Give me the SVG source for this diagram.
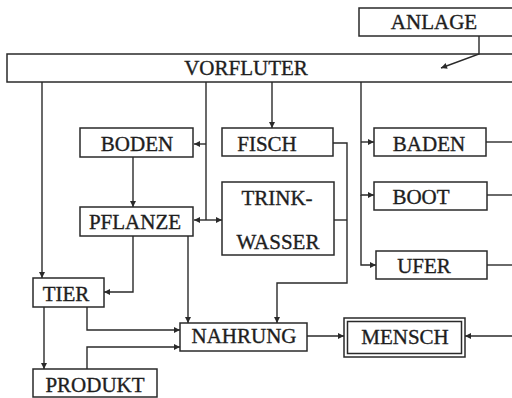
<svg xmlns="http://www.w3.org/2000/svg" width="512" height="398" viewBox="0 0 512 398">
<defs>
<style>
.box{fill:#fff;stroke:#2a2a2a;stroke-width:1.5}
.t{font-family:"Liberation Serif","Times New Roman",serif;font-size:21px;fill:#1e1e1e;text-anchor:middle;stroke:#1e1e1e;stroke-width:0.35}
.c{fill:none;stroke:#2a2a2a;stroke-width:1.4}
</style>
<marker id="a" viewBox="0 0 10 10" refX="10" refY="5" markerWidth="8" markerHeight="6" markerUnits="userSpaceOnUse" orient="auto">
<path d="M0,0 L10,5 L0,10 z" fill="#2a2a2a"/>
</marker>
</defs>
<rect width="512" height="398" fill="#fff"/>
<g id="anlage"><rect class="box" x="359" y="8" width="160" height="28"/><text class="t" x="434" y="29">ANLAGE</text></g>
<g id="vorfluter"><rect class="box" x="7" y="54" width="512" height="28"/><text class="t" x="246" y="75">VORFLUTER</text></g>
<g id="boden"><rect class="box" x="80" y="128" width="113" height="29"/><text class="t" x="137" y="151">BODEN</text></g>
<g id="fisch"><rect class="box" x="222" y="128" width="111" height="28"/><text class="t" x="267" y="151">FISCH</text></g>
<g id="trinkwasser"><rect class="box" x="222" y="182" width="112" height="73"/><text class="t" x="277" y="205">TRINK-</text><text class="t" x="278" y="249">WASSER</text></g>
<g id="pflanze"><rect class="box" x="80" y="207" width="113" height="29"/><text class="t" x="135" y="229">PFLANZE</text></g>
<g id="baden"><rect class="box" x="374" y="128" width="112" height="28"/><text class="t" x="429" y="151">BADEN</text></g>
<g id="boot"><rect class="box" x="374" y="182" width="113" height="28"/><text class="t" x="421" y="204">BOOT</text></g>
<g id="ufer"><rect class="box" x="376" y="251" width="111" height="28"/><text class="t" x="424" y="273">UFER</text></g>
<g id="tier"><rect class="box" x="33" y="278" width="71" height="29"/><text class="t" x="66" y="301">TIER</text></g>
<g id="produkt"><rect class="box" x="33" y="369" width="124" height="28"/><text class="t" x="95" y="392">PRODUKT</text></g>
<g id="nahrung"><rect class="box" x="180" y="323" width="127" height="28"/><text class="t" x="244" y="343">NAHRUNG</text></g>
<g id="mensch"><rect class="box" x="344" y="318" width="121" height="39"/><rect class="box" x="347.5" y="321.5" width="114" height="32"/><text class="t" x="405" y="344">MENSCH</text></g>
<g id="connectors">
<path class="c" d="M479,36 V54 L441,68" marker-end="url(#a)"/>
<path class="c" d="M42,82 V278" marker-end="url(#a)"/>
<path class="c" d="M272,82 V128" marker-end="url(#a)"/>
<path class="c" d="M206,82 V220"/>
<path class="c" d="M206,144 H194" marker-end="url(#a)"/>
<path class="c" d="M206,220 H194" marker-end="url(#a)"/>
<path class="c" d="M206,220 H222" marker-end="url(#a)"/>
<path class="c" d="M361,82 V142"/>
<path class="c" d="M361,142 H374" marker-end="url(#a)"/>
<path class="c" d="M361,142 V195 H374" marker-end="url(#a)"/>
<path class="c" d="M361,195 V265 H376" marker-end="url(#a)"/>
<path class="c" d="M486,142 H512"/>
<path class="c" d="M487,195 H512"/>
<path class="c" d="M487,265 H512"/>
<path class="c" d="M512,336 H465" marker-end="url(#a)"/>
<path class="c" d="M133,157 V207" marker-end="url(#a)"/>
<path class="c" d="M333,143 H347 V283 H277 V323" marker-end="url(#a)"/>
<path class="c" d="M334,220 H347"/>
<path class="c" d="M133,236 V292 H104" marker-end="url(#a)"/>
<path class="c" d="M188,236 V323" marker-end="url(#a)"/>
<path class="c" d="M87,307 V330 H180" marker-end="url(#a)"/>
<path class="c" d="M87,369 V347 H180" marker-end="url(#a)"/>
<path class="c" d="M44,307 V369" marker-end="url(#a)"/>
<path class="c" d="M307,336 H344" marker-end="url(#a)"/>
</g>
</svg>
